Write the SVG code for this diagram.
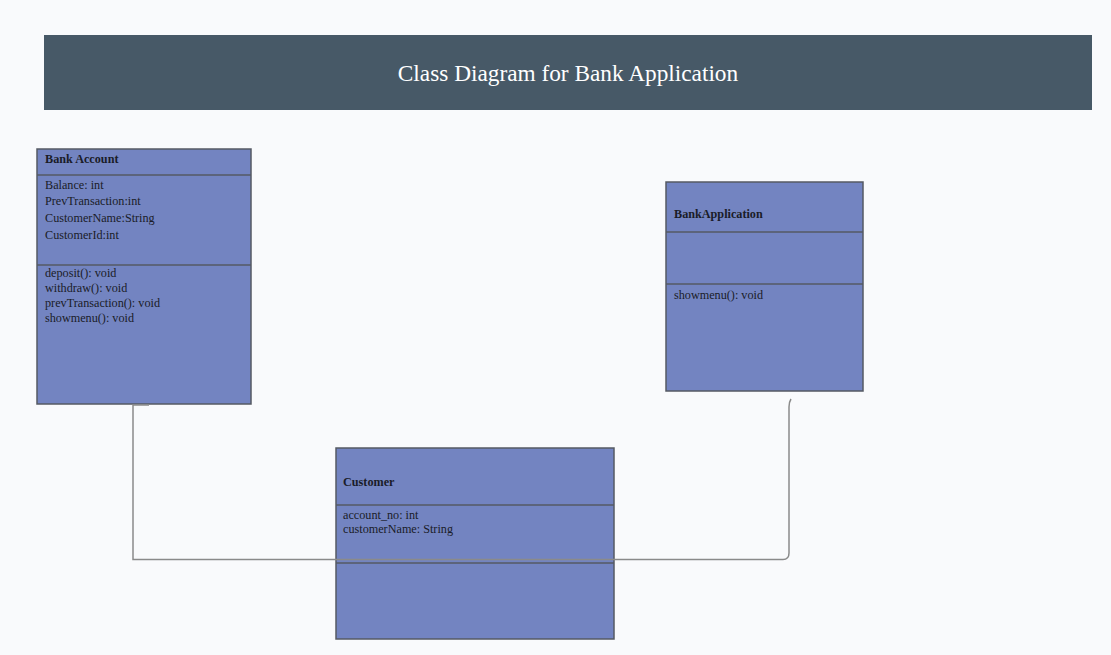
<svg xmlns="http://www.w3.org/2000/svg" width="1111" height="655" viewBox="0 0 1111 655">
<style>
.box{fill:#7384c1;stroke:#555a63;stroke-width:1.5}
.div{stroke:#555a63;stroke-width:1.5}
.t{font-family:"Liberation Serif",serif;font-size:12.2px;fill:#1a1c28}
.b{font-weight:bold}
.conn{fill:none;stroke:#8a8a8a;stroke-width:1.5}
</style>
<rect width="1111" height="655" fill="#f9fafc"/>
<g id="header">
<rect x="44" y="35" width="1048" height="75" fill="#475967"/>
<text x="568" y="81" text-anchor="middle" font-family="Liberation Serif,serif" font-size="23.3" fill="#ffffff">Class Diagram for Bank Application</text>
</g>
<g id="bank-account">
<rect class="box" x="37" y="149" width="214" height="255"/>
<line class="div" x1="37" y1="175" x2="251" y2="175"/>
<line class="div" x1="37" y1="265" x2="251" y2="265"/>
<text class="t b" x="45" y="163">Bank Account</text>
<text class="t" x="45" y="189">Balance: int</text>
<text class="t" x="45" y="205">PrevTransaction:int</text>
<text class="t" x="45" y="222">CustomerName:String</text>
<text class="t" x="45" y="239">CustomerId:int</text>
<text class="t" x="45" y="277">deposit(): void</text>
<text class="t" x="45" y="292">withdraw(): void</text>
<text class="t" x="45" y="307">prevTransaction(): void</text>
<text class="t" x="45" y="322">showmenu(): void</text>
</g>
<g id="bank-application">
<rect class="box" x="666" y="182" width="197" height="209"/>
<line class="div" x1="666" y1="232" x2="863" y2="232"/>
<line class="div" x1="666" y1="284" x2="863" y2="284"/>
<text class="t b" x="674" y="218">BankApplication</text>
<text class="t" x="674" y="299">showmenu(): void</text>
</g>
<g id="customer">
<rect class="box" x="336" y="448" width="278" height="191"/>
<line class="div" x1="336" y1="505" x2="614" y2="505"/>
<line class="div" x1="336" y1="563" x2="614" y2="563"/>
<text class="t b" x="343" y="486">Customer</text>
<text class="t" x="343" y="519">account_no: int</text>
<text class="t" x="343" y="533">customerName: String</text>
</g>
<g id="connectors">
<path class="conn" d="M149,405 L133,405 L133,559.5 L614,559.5"/>
<path class="conn" d="M791,399 Q789,402 789,407 L789,553 Q789,559.5 783,559.5 L614,559.5"/>
</g>
</svg>
